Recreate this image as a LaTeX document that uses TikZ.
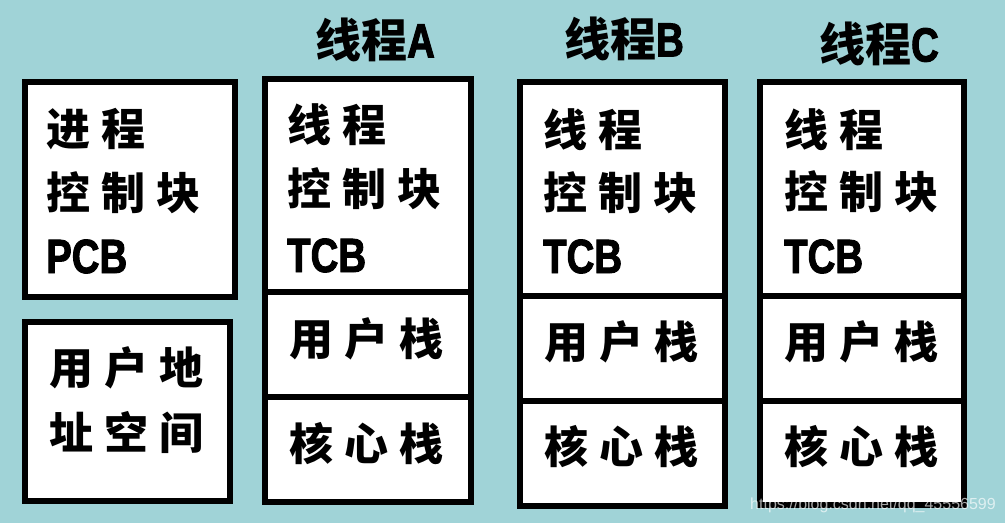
\documentclass[tikz,border=0pt]{standalone}
\usepackage{fontspec}
\newfontfamily\cjk{Noto Sans CJK SC}
\newfontfamily\lat[FakeStretch=0.8,FakeBold=2]{Liberation Sans}
\newfontfamily\wmfont{Liberation Sans}
\definecolor{bgteal}{RGB}{160,211,215}
\newcommand\cgap{\hspace{11pt}}
\tikzset{
  panel/.style={draw=black, line width=6pt, fill=white, inner sep=0pt, outer sep=0pt},
  cjktxt/.style={font=\fontsize{44}{48}\selectfont\cjk\bfseries, inner sep=0pt, anchor=base west},
  lattxt/.style={font=\fontsize{48}{52}\selectfont\lat\bfseries, inner sep=0pt, anchor=base west},
  midtxt/.style={font=\fontsize{44}{48}\selectfont\cjk\bfseries, inner sep=0pt, anchor=base},
  titletxt/.style={font=\fontsize{46}{50}\selectfont\cjk\bfseries, inner sep=0pt, anchor=base},
}
\begin{document}
\begin{tikzpicture}[x=1pt,y=-1pt]
\fill[bgteal] (0,0) rectangle (1005,523);
\useasboundingbox (0,0) rectangle (1005,523);
% process boxes
\node[panel, minimum width=210pt, minimum height=215pt] (pcb) at (130,189.5) {};
\node[panel, minimum width=205pt, minimum height=179pt] (addr) at (127.5,411.5) {};
% thread A
\node[panel, minimum width=206pt, minimum height=213pt] (tcbA) at (368,185.5) {};
\node[panel, minimum width=206pt, minimum height=105pt] (usA) at (368,344.5) {};
\node[panel, minimum width=206pt, minimum height=105pt] (ksA) at (368,449.5) {};
% thread B
\node[panel, minimum width=205pt, minimum height=214pt] (tcbB) at (622.5,189) {};
\node[panel, minimum width=205pt, minimum height=105pt] (usB) at (622.5,348.5) {};
\node[panel, minimum width=205pt, minimum height=105pt] (ksB) at (622.5,453.5) {};
% thread C
\node[panel, minimum width=204pt, minimum height=214pt] (tcbC) at (862,189) {};
\node[panel, minimum width=204pt, minimum height=105pt] (usC) at (862,348.5) {};
\node[panel, minimum width=204pt, minimum height=104pt] (ksC) at (862,453) {};
% titles
\node[titletxt] (tA) at (375,57.5) {线程{\fontsize{48}{50}\selectfont\lat\bfseries A}};
\node[titletxt] (tB) at (624,56.5) {线程{\fontsize{48}{50}\selectfont\lat\bfseries B}};
\node[titletxt] (tC) at (879,61.5) {线程{\fontsize{48}{50}\selectfont\lat\bfseries C}};
% PCB text
\node[cjktxt] (p1) at (46,145) {进\cgap 程};
\node[cjktxt] (p2) at (46,209) {控\cgap 制\cgap 块};
\node[lattxt] (p3) at (46,273) {PCB};
% address space text
\node[cjktxt] (a1) at (49,384) {用\cgap 户\cgap 地};
\node[cjktxt] (a2) at (49,449) {址\cgap 空\cgap 间};
% TCB texts
\node[cjktxt] (ta1) at (287,141) {线\cgap 程};
\node[cjktxt] (ta2) at (287,205) {控\cgap 制\cgap 块};
\node[lattxt] (ta3) at (287,272) {TCB};
\node[cjktxt] (tb1) at (543,146) {线\cgap 程};
\node[cjktxt] (tb2) at (543,209) {控\cgap 制\cgap 块};
\node[lattxt] (tb3) at (543,273) {TCB};
\node[cjktxt] (tc1) at (784,146) {线\cgap 程};
\node[cjktxt] (tc2) at (784,208) {控\cgap 制\cgap 块};
\node[lattxt] (tc3) at (784,273) {TCB};
% stacks
\node[midtxt] (ua) at (366,355) {用\cgap 户\cgap 栈};
\node[midtxt] (ka) at (366,460) {核\cgap 心\cgap 栈};
\node[midtxt] (ub) at (621,358) {用\cgap 户\cgap 栈};
\node[midtxt] (kb) at (621,463) {核\cgap 心\cgap 栈};
\node[midtxt] (uc) at (861,358) {用\cgap 户\cgap 栈};
\node[midtxt] (kc) at (861,463) {核\cgap 心\cgap 栈};
% watermark
\node[font=\fontsize{16}{18}\selectfont\wmfont, text=white, text opacity=0.65, inner sep=0pt, anchor=base] (wm) at (873,509) {https://blog.csdn.net/qq\_45556599};
\end{tikzpicture}
\end{document}
